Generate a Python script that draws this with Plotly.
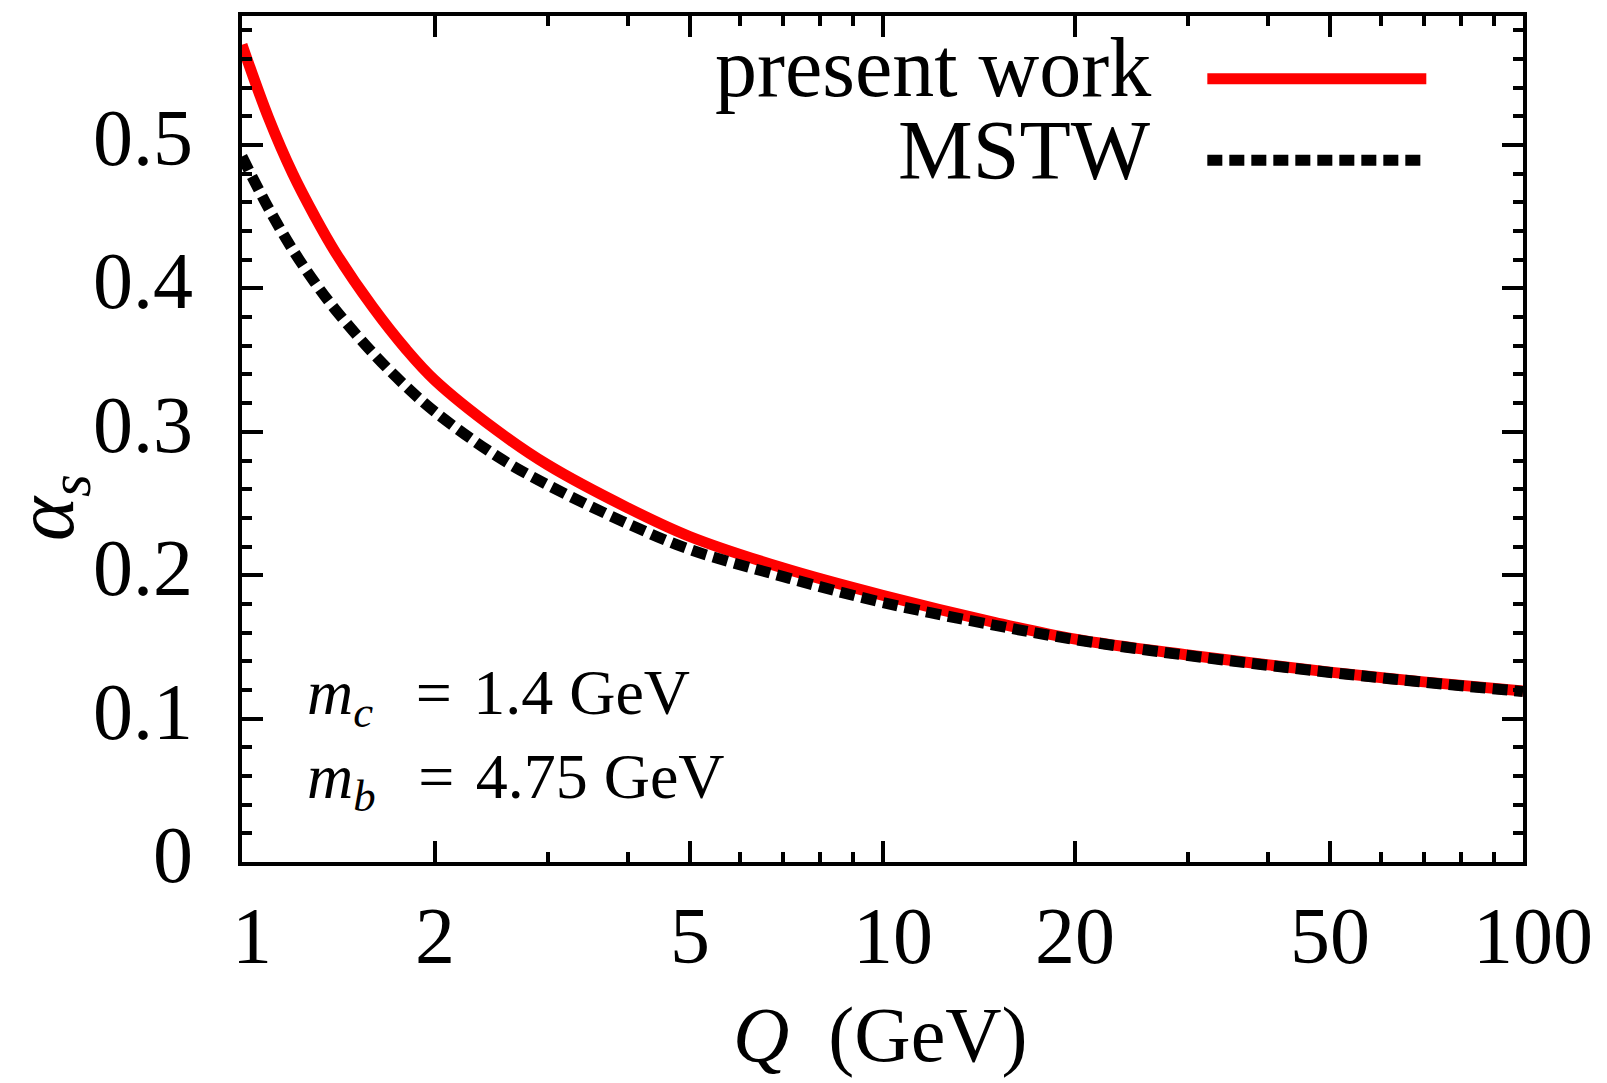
import math
import plotly.graph_objects as go

# Running strong coupling alpha_s(Q) for two determinations
q_present = [1.0, 1.1, 1.2, 1.3, 1.4, 1.6, 1.8, 2.0, 2.5, 3.0, 4.0, 5.0, 7.0, 10.0, 15.0, 20.0, 30.0, 50.0, 70.0, 100.0]
alpha_present = [0.570, 0.519, 0.480, 0.450, 0.425, 0.387, 0.358, 0.336, 0.301, 0.277, 0.247, 0.227,
                 0.205, 0.186, 0.167, 0.1554, 0.1444, 0.1324, 0.1256, 0.1192]

q_mstw = [1.0, 1.1, 1.2, 1.3, 1.4, 1.6, 1.8, 2.0, 2.5, 3.0, 4.0, 5.0, 7.0, 10.0, 15.0, 20.0, 30.0, 50.0, 70.0, 100.0]
alpha_mstw = [0.492, 0.456, 0.427, 0.404, 0.385, 0.355, 0.332, 0.314, 0.283, 0.263, 0.236, 0.218,
              0.199, 0.181, 0.165, 0.1551, 0.144, 0.1322, 0.1254, 0.1189]

series_names = ["present work", "MSTW"]
mass_labels = ["<i>m</i><sub><i>c</i></sub>\u2002\u2006=\u2004" + "1.4 GeV",
               "<i>m</i><sub><i>b</i></sub>\u2002\u2006=\u2004" + "4.75 GeV"]

x_major = [1, 2, 5, 10, 20, 50, 100]
x_major_text = ["1", "2", "5", "10", "20", "50", "100"]
x_minor = [3, 4, 6, 7, 8, 9, 30, 40, 60, 70, 80, 90]
y_major = [0, 0.1, 0.2, 0.3, 0.4, 0.5]
y_major_text = ["0", "0.1", "0.2", "0.3", "0.4", "0.5"]

FONT = "Liberation Serif"
W, H = 1607, 1083
ML, MR, MT, MB = 241.6, 84.3, 12, 221
PW, PH = W - ML - MR, H - MT - MB


def px_x(px):
    return (px - ML) / PW


def px_y(py):
    return (H - MB - py) / PH


fig = go.Figure()
fig.add_trace(go.Scatter(x=q_present, y=alpha_present, mode="lines", name=series_names[0],
                         line=dict(color="#ff0000", width=11, shape="spline", smoothing=1.0)))
fig.add_trace(go.Scatter(x=q_mstw, y=alpha_mstw, mode="lines", name=series_names[1],
                         line=dict(color="#000000", width=11, dash="15px,7px", shape="spline", smoothing=1.0)))

axis_common = dict(showgrid=False, zeroline=False, showline=True, linecolor="black", linewidth=4,
                   ticks="inside", tickcolor="black", tickwidth=3.5, mirror="ticks",
                   showticklabels=False)

fig.update_xaxes(type="log", range=[0, 2], tickmode="array", tickvals=x_major, ticklen=21,
                 minor=dict(tickmode="array", tickvals=x_minor, ticks="inside", ticklen=10,
                            tickwidth=3.5, tickcolor="black", showgrid=False),
                 **axis_common)
fig.update_yaxes(range=[0, 0.59], tickmode="array", tickvals=y_major, ticklen=21,
                 minor=dict(dtick=0.02, tick0=0, ticks="inside", ticklen=10, tickwidth=3.5,
                            tickcolor="black", showgrid=False),
                 **axis_common)

tick_font = dict(family=FONT, size=80, color="black")
annotations = []

# Tick labels
for v, t in zip(x_major, x_major_text):
    annotations.append(dict(text=t, x=math.log10(v), xref="x", y=px_y(936), yref="paper",
                            xanchor="center", yanchor="middle", showarrow=False,
                            xshift=10 if t.startswith("1") else 0, font=tick_font))
for v, t in zip(y_major, y_major_text):
    annotations.append(dict(text=t, x=px_x(195), xref="paper", y=v, yref="y",
                            xanchor="right", yanchor="middle", showarrow=False,
                            yshift=7, font=tick_font))

# Axis titles, key labels and the quark mass note
annotations += [
    dict(text="<i>Q</i>  (GeV)", x=px_x(880), y=px_y(1035), xref="paper", yref="paper",
         xanchor="center", yanchor="middle", showarrow=False,
         font=dict(family=FONT, size=78, color="black")),
    dict(text="<i>α</i><sub><i>s</i></sub>", x=px_x(50), y=px_y(506), xref="paper", yref="paper",
         xanchor="center", yanchor="middle", showarrow=False, textangle=-90,
         font=dict(family=FONT, size=84, color="black")),
    dict(text=series_names[0], x=px_x(1153), y=px_y(64), xref="paper", yref="paper",
         xanchor="right", yanchor="middle", showarrow=False,
         font=dict(family=FONT, size=84, color="black")),
    dict(text=series_names[1], x=px_x(1153), y=px_y(147), xref="paper", yref="paper",
         xanchor="right", yanchor="middle", showarrow=False,
         font=dict(family=FONT, size=84, color="black")),
    dict(text=mass_labels[0], x=px_x(305), y=px_y(696), xref="paper", yref="paper",
         xanchor="left", yanchor="middle", showarrow=False,
         font=dict(family=FONT, size=64, color="black")),
    dict(text=mass_labels[1], x=px_x(305), y=px_y(781), xref="paper", yref="paper",
         xanchor="left", yanchor="middle", showarrow=False,
         font=dict(family=FONT, size=64, color="black")),
]

# Key samples next to the key labels
shapes = [
    dict(type="line", xref="paper", yref="paper", x0=px_x(1207), x1=px_x(1426), y0=px_y(75), y1=px_y(75),
         line=dict(color="#ff0000", width=11)),
    dict(type="line", xref="paper", yref="paper", x0=px_x(1207), x1=px_x(1423), y0=px_y(157), y1=px_y(157),
         line=dict(color="black", width=11, dash="15px,7px")),
]

fig.update_layout(width=W, height=H, autosize=False,
                  margin=dict(l=ML, r=MR, t=MT, b=MB, pad=0),
                  paper_bgcolor="white", plot_bgcolor="white",
                  showlegend=False, annotations=annotations, shapes=shapes,
                  font=dict(family=FONT, color="black"))

fig.write_html("out.html")
